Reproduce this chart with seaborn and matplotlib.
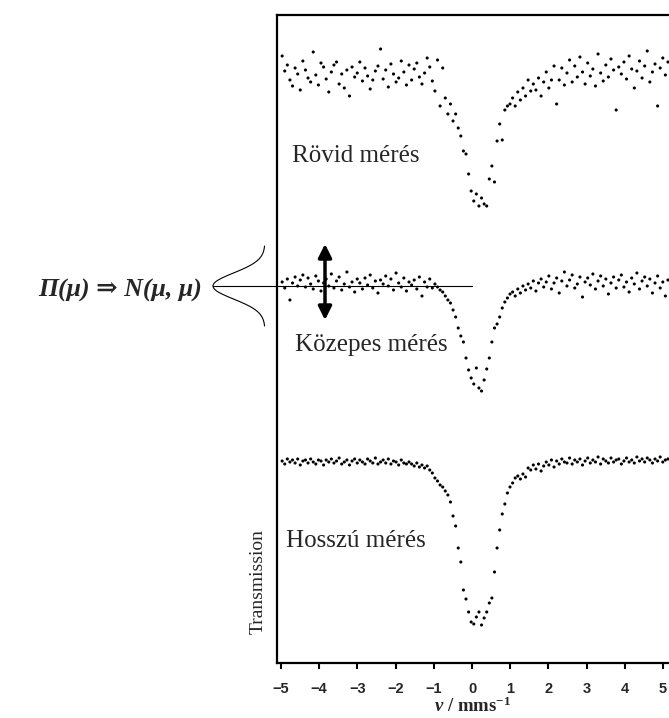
import numpy as np
import pandas as pd
import matplotlib
matplotlib.use('Agg')
import matplotlib.pyplot as plt
import seaborn as sns

sns.set_style('white')
plt.rcParams['font.family'] = ['Liberation Serif', 'DejaVu Serif']
plt.rcParams['mathtext.fontset'] = 'custom'
plt.rcParams['mathtext.rm'] = 'Liberation Serif:bold'
plt.rcParams['mathtext.it'] = 'Liberation Serif:italic:bold'
plt.rcParams['axes.unicode_minus'] = True

# sebesség csatornák (mm/s)
velocity = np.linspace(-4.97, 5.13, 150)

# eltérés az alapvonaltól (tetszőleges egység), leolvasva
rovid = [20, 5, 11, -4, -10, 8, 2, -14, 15, 6,
         -2, -6, 24, 1, -9, 13, 9, -3, -16, 4,
         11, 14, -8, 2, -12, 6, -20, 9, -1, 3,
         14, -5, 8, 0, -13, -4, 5, 10, 27, -3,
         6, -11, 12, 2, -6, -2, 15, 4, -9, 11,
         -4, 7, 13, -1, -8, 3, 18, 9, -5, -15,
         16, -30, 8, -22, -38, -28, -45, -38, -52, -60,
         -75, -78, -98, -115, -125, -118, -130, -122, -128, -130,
         -103, -90, -106, -65, -48, -64, -34, -30, -28, -22,
         -30, -16, -24, -12, -20, -4, -15, -8, -14, -2,
         -20, -6, 4, -12, -4, 10, -28, -4, 8, -9,
         3, 16, -6, 10, -1, 19, 4, -8, 13, 0,
         7, -10, 22, 3, -5, 11, -1, 17, 6, -34,
         9, 2, 14, -3, 20, 7, -12, 5, 15, -2,
         10, 25, -6, 4, 12, -30, 8, 18, 1, 14]

kozepes = [2, -4, 5, -16, 1, 7, -2, 4, 9, -3,
           6, 0, -5, 8, 3, -7, 1, 5, -2, 10,
           -4, 3, 7, -6, 0, 12, -3, 2, -8, 5,
           1, -5, 6, -1, 9, -4, 3, -9, 4, 0,
           8, -2, 5, -6, 11, 1, -3, 6, -7, 2,
           -1, 4, -5, 7, -12, 2, -3, 5, -4, 0,
           -3, -6, -8, -12, -16, -19, -26, -33, -44, -52,
           -58, -74, -86, -94, -100, -84, -104, -107, -96, -85,
           -74, -58, -44, -40, -33, -24, -18, -14, -10, -8,
           -12, -5, -9, -2, -6, 0, -4, 3, -7, 1,
           5, -3, 2, 8, -5, 1, 6, -9, 3, 12,
           -2, 4, 9, -4, 0, 7, -13, 2, 6, -1,
           10, -5, 3, 8, -2, 5, -10, 1, 7, -4,
           4, 9, -3, 2, -8, 6, 0, 11, -5, 3,
           7, -2, 5, -9, 1, 8, -4, 2, -12, 4]

hosszu = [1, -2, 3, 0, 2, -1, 3, -3, 1, 2,
          -1, 3, 0, -2, 2, 1, -3, 2, 0, 3,
          -1, 1, 4, -2, 0, 2, -3, 1, 3, -1,
          2, 0, -2, 3, 1, -1, 4, -2, 0, 2,
          -1, 3, -2, 1, 0, -3, 2, -1, -2, 0,
          -2, -4, -1, -5, -3, -6, -4, -8, -11, -16,
          -19, -23, -25, -29, -33, -40, -54, -64, -86, -100,
          -128, -137, -150, -160, -162, -155, -150, -163, -156, -150,
          -141, -136, -110, -86, -68, -52, -42, -31, -25, -21,
          -16, -14, -17, -12, -15, -6, -8, -3, -7, -2,
          -9, -4, 0, -3, 2, -5, 1, -2, 3, 0,
          -1, 4, -2, 2, 0, 3, -3, 1, 4, -1,
          2, 0, 5, -2, 3, 1, -1, 4, 0, 2,
          3, -2, 1, 4, 0, 2, -1, 5, 1, 3,
          0, 4, 2, -1, 3, 1, 5, 0, 2, 3]

meresek = ['Rövid mérés', 'Közepes mérés', 'Hosszú mérés']
alapvonal = [587, 379, 201]

frames = []
for nev, y, y0 in zip(meresek, [rovid, kozepes, hosszu], alapvonal):
    frames.append(pd.DataFrame({'v': velocity,
                                'T': np.array(y) + y0,
                                'meres': nev}))
df = pd.concat(frames, ignore_index=True)

W, H = 669, 718
fig = plt.figure(figsize=(W / 100, H / 100), dpi=100)
ax = fig.add_axes([277 / W, 55 / H, (W - 277) / W, 648 / H])
ax.patch.set_alpha(0)

sns.scatterplot(data=df, x='v', y='T', hue='meres',
                palette=['black'] * 3, s=5, linewidth=0,
                legend=False, ax=ax)

ax.set_xlim(-5.105, 5.157)
ax.set_ylim(0, 648)
ax.set_xticks(range(-5, 6))
ax.set_yticks([])
ax.set_xlabel('')
ax.set_ylabel('')
for side in ['left', 'bottom', 'top']:
    ax.spines[side].set_color('black')
    ax.spines[side].set_linewidth(1.6)
ax.spines['right'].set_visible(False)
ax.tick_params(axis='x', direction='out', length=4, width=1.5,
               color='black', pad=10, bottom=True)
for lab in ax.get_xticklabels():
    lab.set_fontfamily(['Liberation Sans', 'DejaVu Sans'])
    lab.set_fontweight('bold')
    lab.set_fontsize(10.5)

# rajz a pixelkoordinátákban
ov = fig.add_axes([0, 0, 1, 1], zorder=5)
ov.set_xlim(0, W)
ov.set_ylim(H, 0)
ov.axis('off')

# Gauss-görbe és vízszintes vonal
yy = np.linspace(246, 326, 120)
xx = 265 - 52 * np.exp(-(yy - 286) ** 2 / (2 * 13 ** 2))
ov.plot(xx, yy, color='black', lw=0.8)
ov.plot([213, 472], [286, 286], color='black', lw=0.8)

# kettős nyíl
ov.annotate('', xy=(325, 244), xytext=(325, 320),
            arrowprops=dict(arrowstyle='<|-|>', color='black', lw=2.5,
                            mutation_scale=20, shrinkA=0, shrinkB=0))

ov.text(38, 297, 'Π(μ) ⇒ N(μ, μ)', fontsize=18.5, fontweight='bold',
        fontstyle='italic', va='baseline', ha='left',
        family=['Liberation Serif', 'DejaVu Serif'])

ov.text(292, 162, 'Rövid mérés', fontsize=18, va='baseline', ha='left')
ov.text(295, 351, 'Közepes mérés', fontsize=18, va='baseline', ha='left')
ov.text(286, 547, 'Hosszú mérés', fontsize=18, va='baseline', ha='left')
ov.text(258, 582, 'Transmission', fontsize=14, rotation=90,
        va='center', ha='center')
ov.text(473, 712, r'$\mathit{v}\ /\ \mathrm{mms}^{\mathrm{-1}}$',
        fontsize=13.5, va='baseline', ha='center')

fig.savefig('out.png', dpi=100)
